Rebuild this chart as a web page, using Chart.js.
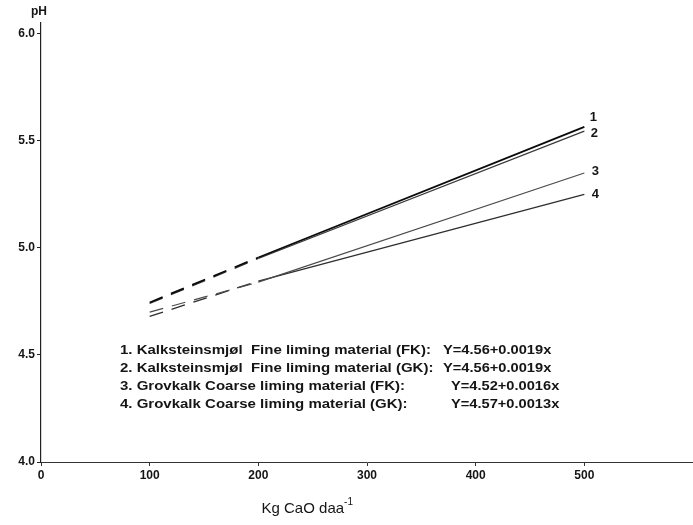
<!DOCTYPE html>
<html>
<head>
<meta charset="utf-8">
<script src="https://cdn.jsdelivr.net/npm/chart.js@4.4.1/dist/chart.umd.min.js"></script>
<style>
  html, body { margin: 0; padding: 0; background: #fff; }
</style>
</head>
<body>
<canvas id="c" width="693" height="525"></canvas>
<script>
// ── DATA ────────────────────────────────────────────────────
const doses      = [100, 200, 500];           // kg CaO / daa
const phFineFK   = [4.745, 4.955, 5.565];
const phFineGK   = [4.74, 4.95, 5.545];
const phCoarseFK = [4.70, 4.84, 5.35];
const phCoarseGK = [4.68, 4.845, 5.25];

const xTicks = [0, 100, 200, 300, 400, 500];
const yTicks = [4.0, 4.5, 5.0, 5.5, 6.0];

const lineNumbers = ['1', '2', '3', '4'];
const legendText = [
  '1. Kalksteinsmjøl  Fine liming material (FK):',
  '2. Kalksteinsmjøl  Fine liming material (GK):',
  '3. Grovkalk Coarse liming material (FK):',
  '4. Grovkalk Coarse liming material (GK):'
];
const equations = [
  'Y=4.56+0.0019x',
  'Y=4.56+0.0019x',
  'Y=4.52+0.0016x',
  'Y=4.57+0.0013x'
];

const ink = '#151515';
const fam = '"Liberation Sans", Arial, sans-serif';

// ── HELPERS ─────────────────────────────────────────────────
const pts = ys => doses.map((x, i) => ({ x, y: ys[i] }));

function series(ys, color, width) {
  return {
    data: pts(ys),
    borderColor: color,
    borderWidth: width,
    pointRadius: 0,
    tension: 0,
    fill: false,
    // extrapolated part (below 200) is dashed
    segment: { borderDash: ctx => ctx.p1.parsed.x <= 200 ? [14, 9] : undefined }
  };
}

// wide lettering like the scanned original
function wideText(ctx, t, x, y, sx) {
  ctx.save();
  ctx.translate(x, y);
  ctx.scale(sx, 1);
  ctx.fillText(t, 0, 0);
  ctx.restore();
}

// text overlays: pH label, line numbers, equation legend, x title
const overlay = {
  id: 'overlay',
  afterDraw(chart) {
    const { ctx, scales: { x } } = chart;
    ctx.save();
    ctx.fillStyle = ink;
    ctx.textBaseline = 'middle';

    // pH
    ctx.font = 'bold 12px ' + fam;
    ctx.textAlign = 'center';
    ctx.fillText('pH', x.left - 2, 12);

    // numbers at line ends
    const offs = [[9, -9], [10, 2], [11, -1], [11, 0]];
    ctx.font = 'bold 13px ' + fam;
    chart.data.datasets.forEach((ds, i) => {
      const last = chart.getDatasetMeta(i).data[doses.length - 1];
      ctx.fillText(lineNumbers[i], last.x + offs[i][0], last.y + offs[i][1]);
    });

    // legend with regression equations
    ctx.font = 'bold 12px ' + fam;
    ctx.textAlign = 'left';
    const eqX = [443, 443, 451, 451];
    legendText.forEach((t, i) => {
      const ty = 351 + i * 18;
      wideText(ctx, t, 120, ty, 1.25);
      wideText(ctx, equations[i], eqX[i], ty, 1.22);
    });

    // x axis title with superscript
    const base = 'Kg CaO daa';
    ctx.font = '15px ' + fam;
    const w1 = ctx.measureText(base).width;
    ctx.font = '10px ' + fam;
    const w2 = ctx.measureText('-1').width;
    const sx = x.getPixelForValue(245) - (w1 + w2) / 2;
    ctx.font = '15px ' + fam;
    ctx.fillText(base, sx, 509);
    ctx.font = '10px ' + fam;
    ctx.fillText('-1', sx + w1, 502);
    ctx.restore();
  }
};

// ── CHART ───────────────────────────────────────────────────
new Chart(document.getElementById('c'), {
  type: 'line',
  data: {
    datasets: [
      series(phFineFK, '#0a0a0a', 1.8),
      series(phFineGK, '#3a3a3a', 1.2),
      series(phCoarseFK, '#4a4a4a', 1.1),
      series(phCoarseGK, '#2e2e2e', 1.3)
    ]
  },
  options: {
    responsive: false,
    animation: false,
    layout: { padding: { top: 23, right: 0, left: 0, bottom: 0 } },
    plugins: { legend: { display: false }, tooltip: { enabled: false } },
    scales: {
      x: {
        type: 'linear', min: 0, max: 600,
        afterBuildTicks: s => { s.ticks = xTicks.map(v => ({ value: v })); },
        afterFit: s => { s.height = 63; },
        border: { color: '#333', width: 1 },
        grid: { drawOnChartArea: false, tickLength: 4, color: '#333' },
        ticks: {
          color: ink, padding: 2, maxRotation: 0, autoSkip: false,
          font: { family: fam, size: 12, weight: 'bold' }
        }
      },
      y: {
        type: 'linear', min: 4, max: 6.05,
        afterBuildTicks: s => { s.ticks = yTicks.map(v => ({ value: v })); },
        afterFit: s => { s.width = 41; },
        border: { color: '#222', width: 1.2 },
        grid: { drawOnChartArea: false, tickLength: 4, color: '#222' },
        ticks: {
          color: ink, padding: 2, callback: v => v.toFixed(1),
          font: { family: fam, size: 12, weight: 'bold' }
        }
      }
    }
  },
  plugins: [overlay]
});
</script>
</body>
</html>
